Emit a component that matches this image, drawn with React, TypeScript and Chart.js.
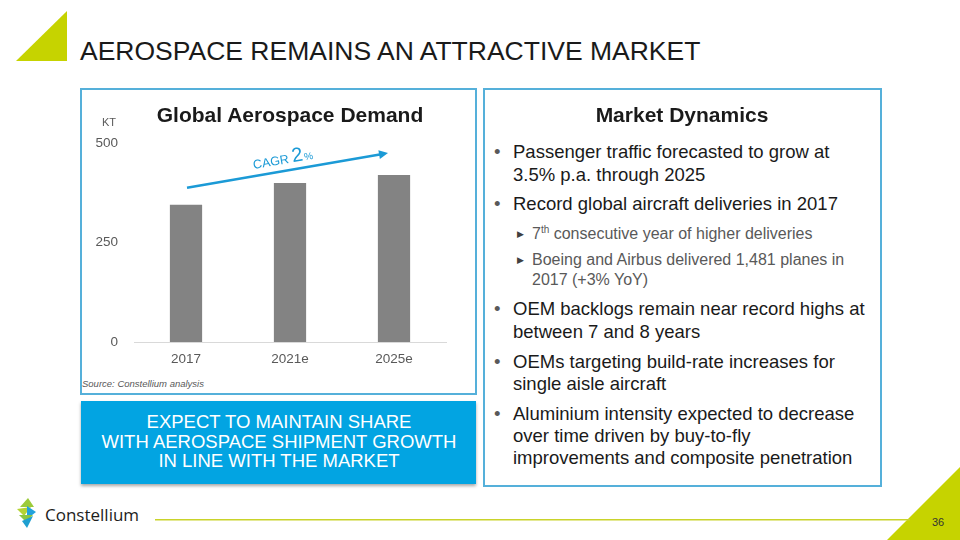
import React, { useEffect, useRef } from "react";
import { Chart, registerables } from "chart.js";

Chart.register(...registerables);

// ---- data ----
const categories = ["2017", "2021e", "2025e"];
const demandKT = [345, 400, 420];
const yTickValues = [0, 250, 500];
const cagrLabel = ["CAGR ", "2", "%"];
const arrowFromKT = 388; // annotation arrow start level (KT)
const arrowToKT = 475; // annotation arrow end level (KT)

const FONT = '"Liberation Sans", Arial, Helvetica, sans-serif';

const cagrPlugin = {
  id: "cagrArrow",
  afterDatasetsDraw(chart: any) {
    const { ctx, scales } = chart;
    const x = scales.x;
    const y = scales.y;
    const x0 = x.getPixelForValue(0) + 1;
    const x1 = x.getPixelForValue(categories.length - 1) - 6;
    const y0 = y.getPixelForValue(arrowFromKT);
    const y1 = y.getPixelForValue(arrowToKT);
    const ang = Math.atan2(y1 - y0, x1 - x0);
    const color = "#1b9ad6";
    ctx.save();
    ctx.strokeStyle = color;
    ctx.fillStyle = color;
    ctx.lineWidth = 2.5;
    const head = 9;
    const ex = x1 - Math.cos(ang) * head * 0.6;
    const ey = y1 - Math.sin(ang) * head * 0.6;
    ctx.beginPath();
    ctx.moveTo(x0, y0);
    ctx.lineTo(ex, ey);
    ctx.stroke();
    ctx.beginPath();
    ctx.moveTo(x1, y1);
    ctx.lineTo(x1 - Math.cos(ang) * head + Math.sin(ang) * 4.5, y1 - Math.sin(ang) * head - Math.cos(ang) * 4.5);
    ctx.lineTo(x1 - Math.cos(ang) * head - Math.sin(ang) * 4.5, y1 - Math.sin(ang) * head + Math.cos(ang) * 4.5);
    ctx.closePath();
    ctx.fill();
    // label
    ctx.translate(x0, y0);
    ctx.rotate(ang);
    ctx.textBaseline = "alphabetic";
    ctx.textAlign = "left";
    let cx = 69;
    const by = -7;
    const sizes = [12.5, 20, 10];
    cagrLabel.forEach((t, i) => {
      ctx.font = `${sizes[i]}px ${FONT}`;
      ctx.fillText(t, cx, by);
      cx += ctx.measureText(t).width + (i === 1 ? 1 : 0);
    });
    ctx.restore();
  },
};

function BarChart() {
  const ref = useRef<HTMLCanvasElement | null>(null);
  useEffect(() => {
    if (!ref.current) return;
    const chart = new Chart(ref.current, {
      type: "bar",
      data: {
        labels: categories,
        datasets: [
          {
            data: demandKT,
            backgroundColor: "#838383",
            borderWidth: 0,
            barPercentage: 0.31,
            categoryPercentage: 1,
          },
        ],
      },
      options: {
        animation: false,
        responsive: false,
        devicePixelRatio: 1,
        layout: { padding: { top: 4, right: 29, left: 0, bottom: 0 } },
        plugins: { legend: { display: false }, tooltip: { enabled: false }, title: { display: false } },
        scales: {
          x: {
            grid: { display: false, drawTicks: false },
            border: { display: true, color: "#d9d9d9", width: 1 },
            ticks: { color: "#595959", font: { size: 13.5, family: FONT }, padding: 9 },
            afterFit: (s: any) => {
              s.height = 36;
            },
          },
          y: {
            min: 0,
            max: 500,
            afterBuildTicks: (s: any) => {
              s.ticks = yTickValues.map((v) => ({ value: v }));
            },
            grid: { display: false, drawTicks: false },
            border: { display: false },
            ticks: { color: "#595959", font: { size: 13.5, family: FONT }, padding: 16 },
            afterFit: (s: any) => {
              s.width = 52;
            },
          },
        },
      },
      plugins: [cagrPlugin],
    } as any);
    return () => chart.destroy();
  }, []);
  return (
    <canvas
      ref={ref}
      width={393}
      height={259}
      style={{ position: "absolute", left: 82, top: 119, width: 393, height: 259 }}
    />
  );
}

function T(props: {
  x: number;
  base: number;
  size: number;
  children: React.ReactNode;
  color?: string;
  bold?: boolean;
  italic?: boolean;
  align?: "left" | "center";
  w?: number;
  family?: string;
}) {
  const { x, base, size, children, color = "#1a1a1a", bold, italic, align = "left", w, family = FONT } = props;
  const top = base - 0.8465 * size;
  const style: React.CSSProperties = {
    position: "absolute",
    top,
    left: align === "center" && w ? x - w / 2 : x,
    width: w,
    textAlign: align,
    fontSize: size,
    lineHeight: `${size}px`,
    fontFamily: family,
    fontWeight: bold ? 700 : 400,
    fontStyle: italic ? "italic" : "normal",
    color,
    whiteSpace: "nowrap",
  };
  return <div style={style}>{children}</div>;
}

const mainSize = 18.5;
const subSize = 16;
const boxSize = 18.5;

export default function App() {
  const green = "#c6d300";
  return (
    <div
      style={{
        position: "absolute",
        left: 0,
        top: 0,
        width: 960,
        height: 540,
        background: "#ffffff",
        overflow: "hidden",
        fontFamily: FONT,
      }}
    >
      {/* decorative triangles */}
      <svg width={960} height={540} style={{ position: "absolute", left: 0, top: 0 }}>
        <polygon points="16,61 67,11 67,61" fill={green} />
        <polygon points="960,467 960,540 887,540" fill={green} />
        <rect x={155} y={519} width={755} height={1.5} fill="#c9d32a" />
        {/* logo mark */}
        <polygon points="28,498 20,507 34,507" fill="#9ccb3b" />
        <polygon points="17,509 31,507 24,516" fill="#b5d334" />
        <polygon points="27,506 36,512 27,519" fill="#22a2dc" />
        <polygon points="19,515 33,515 26,522" fill="#8cc63f" />
        <polygon points="22,521 33,516 27,528" fill="#1e9fd0" />
      </svg>

      <T x={80} base={60} size={26.5}>AEROSPACE REMAINS AN ATTRACTIVE MARKET</T>

      {/* left box */}
      <div
        style={{
          position: "absolute",
          left: 80,
          top: 88,
          width: 393,
          height: 303,
          border: "2px solid #55b0da",
        }}
      />
      <BarChart />
      <T x={290} base={122} size={21} bold align="center" w={320}>
        Global Aerospace Demand
      </T>
      <T x={102} base={126} size={11} color="#595959">
        KT
      </T>
      <T x={82} base={387} size={9.5} italic color="#595959">
        Source: Constellium analysis
      </T>

      {/* blue box */}
      <div
        style={{
          position: "absolute",
          left: 81,
          top: 401,
          width: 395,
          height: 83,
          background: "#02a4e2",
          boxShadow: "0 2px 3px rgba(0,0,0,0.35)",
        }}
      />
      <T x={279} base={429} size={boxSize} color="#ffffff" align="center" w={395}>
        EXPECT TO MAINTAIN SHARE
      </T>
      <T x={279} base={448.5} size={boxSize} color="#ffffff" align="center" w={395}>
        WITH AEROSPACE SHIPMENT GROWTH
      </T>
      <T x={279} base={467.5} size={boxSize} color="#ffffff" align="center" w={395}>
        IN LINE WITH THE MARKET
      </T>

      {/* right box */}
      <div
        style={{
          position: "absolute",
          left: 483,
          top: 88,
          width: 395,
          height: 395,
          border: "2px solid #55b0da",
        }}
      />
      <T x={682} base={122} size={21} bold align="center" w={300}>
        Market Dynamics
      </T>

      <T x={494} base={159} size={mainSize} color="#595959">•</T>
      <T x={513} base={159} size={mainSize}>Passenger traffic forecasted to grow at</T>
      <T x={513} base={181.5} size={mainSize}>3.5% p.a. through 2025</T>

      <T x={494} base={211} size={mainSize} color="#595959">•</T>
      <T x={513} base={211} size={mainSize}>Record global aircraft deliveries in 2017</T>

      <T x={517} base={238} size={9} color="#404040">▶</T>
      <T x={532} base={240} size={subSize} color="#595959">
        7<sup style={{ fontSize: 10, lineHeight: 0, verticalAlign: "6px" }}>th</sup> consecutive year of higher deliveries
      </T>
      <T x={517} base={264} size={9} color="#404040">▶</T>
      <T x={532} base={266} size={subSize} color="#595959">Boeing and Airbus delivered 1,481 planes in</T>
      <T x={532} base={286} size={subSize} color="#595959">2017 (+3% YoY)</T>

      <T x={494} base={316} size={mainSize} color="#595959">•</T>
      <T x={513} base={316} size={mainSize}>OEM backlogs remain near record highs at</T>
      <T x={513} base={338.5} size={mainSize}>between 7 and 8 years</T>

      <T x={494} base={369} size={mainSize} color="#595959">•</T>
      <T x={513} base={369} size={mainSize}>OEMs targeting build-rate increases for</T>
      <T x={513} base={391} size={mainSize}>single aisle aircraft</T>

      <T x={494} base={421} size={mainSize} color="#595959">•</T>
      <T x={513} base={421} size={mainSize}>Aluminium intensity expected to decrease</T>
      <T x={513} base={443} size={mainSize}>over time driven by buy-to-fly</T>
      <T x={513} base={465} size={mainSize}>improvements and composite penetration</T>

      {/* footer */}
      <T x={45} base={520} size={17} color="#1d1d1b" family='"Open Sans", sans-serif'>
        Constellium
      </T>
      <T x={932} base={526} size={11} color="#333333">
        36
      </T>
    </div>
  );
}
